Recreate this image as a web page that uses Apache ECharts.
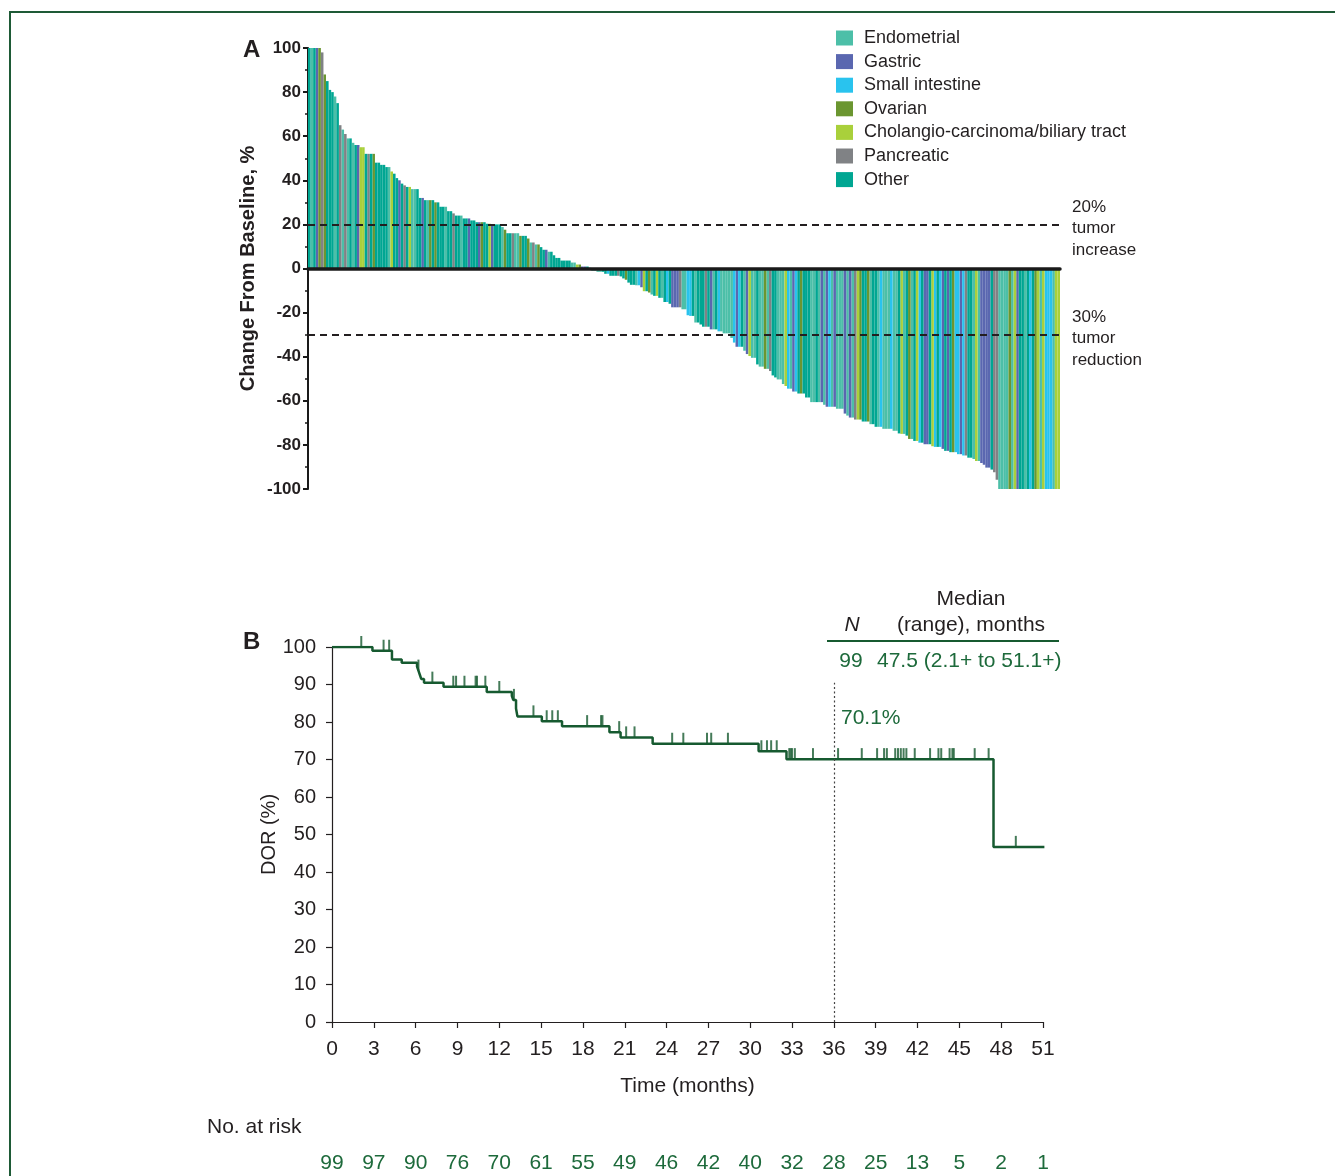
<!DOCTYPE html>
<html><head><meta charset="utf-8">
<script src="https://cdn.jsdelivr.net/npm/echarts@6/dist/echarts.min.js"></script>
<style>html,body{margin:0;padding:0;background:#fff}#c{width:1335px;height:1176px}</style>
</head><body><div id="c"></div>
<script>
// ---------- Panel A data ----------
const typeNames = ['Endometrial','Gastric','Small intestine','Ovarian','Cholangio-carcinoma/biliary tract','Pancreatic','Other'];
const typeCodes = ['E','G','S','V','C','P','O'];
const typeColors = ['#4cbfa8','#5a67b0','#29c3ee','#6b9630','#a9d03b','#808285','#00a692'];

const changeValues = [
  100,100,100,100,100,98,88,85,81,80,
  78,75,65,63,61,59,59,57,56,56,
  55,55,52,52,52,52,48,48,47,47,
  46,46,44,43,41,40,38.5,37.7,37,37,
  36,36,36,32,32,31,31,31,31,30,
  30,28,28,28,26,26,
  25,24,24,24,22.7,22.7,22.7,21.8,21.8,21,
  21,21,21,20.3,20.3,20,20,20,20,18.8,
  17.6,16,16,16,16,16,14.8,14.8,14.8,13.6,
  11.8,11.8,10.9,10.9,9.7,8.5,8.5,7.6,7.6,6,
  4.8,4.8,3.6,3.6,3.6,3.6,2.7,2.7,1.8,1.8,
  0.9,0.9,0.9,0.3,
  -1,-1,-1.5,-1.5,-1.5,-2.4,-2.4,-3.3,-3.3,-3.3,
  -3.3,-3.6,-4.5,-5.1,-6.4,-7.4,-7.4,-7.6,-7.6,-8.5,
  -10.3,-10.3,-10.9,-11.8,-12.4,-12.4,-13.3,-13.3,-15.2,-15.2,
  -16,-17.6,-17.6,-17.6,-17.6,-18.5,-18.5,-21.2,-21.5,-21.5,
  -24.5,-24.5,-25.4,-26.4,-26.4,-26.4,-27.6,-27.6,-27.6,-28.5,
  -28.5,-29.4,-29.4,-29.4,-31.5,-33.6,-35.5,-35.5,-35.5,-37.3,
  -38.8,
  -39.7,-40.5,-40.5,-43.5,-44.5,-44.5,-45.5,-45.5,-46.5,-48.5,
  -49.4,-50.3,-50.3,-52.4,-53.3,-54.5,-54.5,-55.8,-55.8,-56.7,
  -56.7,-56.7,-58.5,-58.5,-60.6,-60.6,-60.6,-60.6,-60.6,-61.8,
  -62.7,-62.7,-62.7,-62.7,-63.6,-63.6,-63.6,-65.8,-66.7,-67.6,
  -67.6,-68.5,-68.5,-68.5,-69.4,-69.4,-69.4,-70.6,-70.6,-71.8,
  -71.8,-71.8,-72.7,-72.7,-72.7,-72.7,-73.6,-73.6,-74.8,
  -75,-75,-75.8,-77.3,-77.3,-78.2,-78.2,-79,-79,-79.7,
  -79.7,-79.7,-80.6,-80.9,-80.9,-80.9,-81.8,-82.7,-82.7,-83.3,
  -83.3,-83.3,-84.2,-84.2,-84.8,-84.8,-85.8,-85.8,-86.4,-87.3,
  -87.3,-88.2,-89,-90.3,-90.3,-91.2,-92.4,-95.8,-100,-100,
  -100,-100,-100,-100,-100,-100,-100,-100,-100,-100,
  -100,-100,-100,-100,-100,-100,-100,-100,-100,-100,
  -100,-100
];
const tumorTypes = [
  'O','E','O','G','V','P','V','O','O','O',
  'E','O','P','E','P','E','O','E','O','G',
  'C','C','O','P','O','V','O','O','O','O',
  'O','E','C','O','O','G','O','P','O','C',
  'E','E','O','O','G','O','E','V','O','V',
  'O','O','O','E','O','O',
  'P','O','O','E','O','O','G','O','O','O',
  'G','V','O','O','C','G','O','O','O','E',
  'V','O','O','P','E','E','V','O','O','V',
  'E','P','E','V','O','O','G','E','O','O',
  'O','O','O','O','O','O','E','E','C','V',
  'G','G','O','O',
  'E','E','E','E','O','O','S','O','O','O',
  'P','O','O','V','O','O','O','E','S','G',
  'C','O','V','E','O','C','O','E','O','S',
  'O','G','G','G','P','E','E','S','S','O',
  'E','O','O','O','P','O','G','E','O','S',
  'E','E','E','E','E','S','G','S','O','E',
  'G',
  'C','E','E','O','E','E','V','E','P','O',
  'O','E','E','E','C','S','E','G','S','O',
  'V','O','O','O','E','E','O','E','G','E',
  'G','S','E','G','E','E','E','G','E','G',
  'E','P','C','V','O','O','V','E','O','O',
  'E','S','E','E','E','S','E','E','O',
  'C','E','O','V','E','O','C','S','O','G',
  'G','O','C','S','O','S','G','O','G','O',
  'V','S','S','G','S','P','O','O','E','C',
  'E','G','G','G','G','O','P','P','E','E',
  'E','E','V','E','C','G','O','O','E','O',
  'S','O','V','C','E','C','S','S','S','E',
  'C','C'
];
const thresholdA = [20, -30];
const thresholdLabels = ['20%\ntumor\nincrease', '30%\ntumor\nreduction'];

// ---------- Panel B data ----------
const kmTime = [0, 2.9, 4.3, 5.0, 6.1, 6.2, 6.3, 6.4, 6.6, 8.0, 11.1, 12.9, 13.0, 13.2, 13.3, 15.05, 16.5, 19.9, 20.7, 23.0, 30.6, 32.6, 47.45, 51.1];
const kmSurv = [100, 99.0, 96.7, 95.8, 94.8, 93.7, 92.6, 91.5, 90.5, 89.4, 88.0, 87.0, 85.9, 83.6, 81.5, 80.2, 78.9, 77.3, 75.9, 74.2, 72.2, 70.1, 46.7, 46.7];
const censorTimes = [2.1, 3.7, 4.1, 6.2, 7.2, 8.7, 8.9, 9.5, 10.3, 10.4, 11.0, 12.0, 13.05, 14.45, 15.4, 15.8, 16.2, 18.3, 19.3, 19.4, 20.6, 21.1, 21.7, 24.4, 25.2, 26.9, 27.2, 28.4, 30.8, 31.2, 31.5, 31.9, 32.8, 32.9, 33.0, 33.2, 34.5, 36.3, 38.0, 39.1, 39.6, 39.8, 40.4, 40.6, 40.8, 41.0, 41.2, 41.8, 42.9, 43.5, 43.7, 44.3, 44.5, 44.6, 46.1, 47.1, 49.05, 51.1];
const atRisk = [99, 97, 90, 76, 70, 61, 55, 49, 46, 42, 40, 32, 28, 25, 13, 5, 2, 1];
const landmarkTime = 36;
const landmarkLabel = '70.1%';

// ---------- build ----------
const TXT = '#231f20';
const GREEN = '#165a30';
const GREEN_T = '#1d6a3b';
const FONT = '"Liberation Sans", Arial, sans-serif';

function survAt(t) {
  let s = kmSurv[0];
  for (let i = 0; i < kmTime.length; i++) { if (kmTime[i] <= t) s = kmSurv[i]; }
  return s;
}

const cats = changeValues.map((v, i) => String(i + 1));
const wfSeries = typeCodes.map((code, k) => ({
  name: typeNames[k],
  type: 'bar',
  stack: 'wf',
  xAxisIndex: 0, yAxisIndex: 0,
  barCategoryGap: '0%',
  itemStyle: { color: typeColors[k] },
  data: changeValues.map((v, i) => tumorTypes[i] === code ? v : '-')
}));
wfSeries[wfSeries.length - 1].markLine = {
  silent: true, symbol: 'none',
  lineStyle: { type: [7, 5], width: 2, color: TXT },
  label: { position: 'end', distance: 12, color: TXT, fontSize: 17, lineHeight: 21.5, fontFamily: FONT, align: 'left', offset: [0, 4] },
  data: thresholdA.map((y, i) => ({ yAxis: y, label: { formatter: thresholdLabels[i] } }))
};

const option = {
  animation: false,
  textStyle: { fontFamily: FONT },
  legend: {
    data: typeNames, orient: 'vertical', left: 831, top: 24,
    itemWidth: 17, itemHeight: 15, itemGap: 5.6, icon: 'rect',
    textStyle: { fontSize: 18, color: TXT, fontFamily: FONT, padding: [0, 0, 0, 6] }
  },
  grid: [
    { left: 308, right: 275, top: 48, height: 441 },
    { left: 332, right: 292, top: 647, height: 375 },
    { left: 332, right: 292, top: 1150, height: 1 }
  ],
  xAxis: [
    { type: 'category', gridIndex: 0, data: cats, z: 5,
      axisLine: { onZero: true, lineStyle: { color: '#1a1a1a', width: 3.5 } },
      axisTick: { show: false }, axisLabel: { show: false }, splitLine: { show: false } },
    { type: 'value', gridIndex: 1, min: 0, max: 51, interval: 3,
      axisLine: { onZero: false, lineStyle: { color: TXT, width: 1.2 } },
      axisTick: { length: 6, lineStyle: { color: TXT, width: 1.2 } },
      axisLabel: { fontSize: 21, color: TXT, margin: 17, fontFamily: FONT },
      splitLine: { show: false },
      name: 'Time (months)', nameLocation: 'middle', nameGap: 54, nameMoveOverlap: false,
      nameTextStyle: { fontSize: 21, color: TXT, fontFamily: FONT } },
    { type: 'value', gridIndex: 2, min: 0, max: 51, interval: 3,
      axisLine: { show: false }, axisTick: { show: false }, splitLine: { show: false },
      axisLabel: { fontSize: 21, color: GREEN_T, margin: 2, fontFamily: FONT,
        formatter: v => { const k = Math.round(v / 3); return atRisk[k] !== undefined ? String(atRisk[k]) : ''; } } }
  ],
  yAxis: [
    { type: 'value', gridIndex: 0, min: -100, max: 100, interval: 20,
      axisLine: { show: true, lineStyle: { color: '#1a1a1a', width: 2 } },
      axisTick: { show: true, length: 5, lineStyle: { color: '#1a1a1a', width: 2 } },
      minorTick: { show: true, splitNumber: 2, length: 3, lineStyle: { color: '#1a1a1a', width: 1.5 } },
      splitLine: { show: false },
      axisLabel: { fontSize: 17, fontWeight: 'bold', color: TXT, margin: 7, fontFamily: FONT },
      name: 'Change From Baseline, %', nameLocation: 'middle', nameGap: 50, nameMoveOverlap: false,
      nameTextStyle: { fontSize: 20, fontWeight: 'bold', color: TXT, fontFamily: FONT } },
    { type: 'value', gridIndex: 1, min: 0, max: 100, interval: 10,
      axisLine: { show: true, lineStyle: { color: TXT, width: 1.2 } },
      axisTick: { show: true, length: 6, lineStyle: { color: TXT, width: 1.2 } },
      splitLine: { show: false },
      axisLabel: { fontSize: 20, color: TXT, margin: 16, fontFamily: FONT },
      name: 'DOR (%)', nameLocation: 'middle', nameGap: 53, nameMoveOverlap: false,
      nameTextStyle: { fontSize: 20, color: TXT, fontFamily: FONT } },
    { type: 'value', gridIndex: 2, show: false, min: 0, max: 1 }
  ],
  series: wfSeries.concat([
    { name: 'KM', type: 'line', xAxisIndex: 1, yAxisIndex: 1, step: 'end', symbol: 'none',
      lineStyle: { color: GREEN, width: 2.5 },
      data: kmTime.map((t, i) => [t, kmSurv[i]]),
      markLine: { silent: true, symbol: 'none',
        lineStyle: { type: [2, 2.5], width: 1.2, color: '#444' },
        label: { show: false },
        data: [[{ coord: [landmarkTime, 0] }, { coord: [landmarkTime, 90.5] }]] } },
    { name: 'Censored', type: 'scatter', xAxisIndex: 1, yAxisIndex: 1,
      symbol: 'rect', symbolSize: [2, 11], symbolOffset: [0, -5.5],
      itemStyle: { color: GREEN },
      data: censorTimes.map(t => [t, survAt(t)]) }
  ]),
  graphic: [
    { type: 'rect', silent: true, shape: { x: 10, y: 12, width: 1400, height: 1300 },
      style: { fill: 'none', stroke: '#1e5a36', lineWidth: 2 } },
    { type: 'text', left: 243, top: 38, style: { text: 'A', font: 'bold 24px ' + FONT, fill: TXT } },
    { type: 'text', left: 243, top: 630, style: { text: 'B', font: 'bold 24px ' + FONT, fill: TXT } },
    { type: 'text', x: 971, y: 599, style: { text: 'Median', font: '21px ' + FONT, fill: TXT, align: 'center', verticalAlign: 'middle' } },
    { type: 'text', x: 852, y: 625, style: { text: 'N', font: 'italic 21px ' + FONT, fill: TXT, align: 'center', verticalAlign: 'middle' } },
    { type: 'text', x: 971, y: 625, style: { text: '(range), months', font: '21px ' + FONT, fill: TXT, align: 'center', verticalAlign: 'middle' } },
    { type: 'line', shape: { x1: 827, y1: 641, x2: 1059, y2: 641 }, style: { stroke: GREEN, lineWidth: 2 } },
    { type: 'text', x: 851, y: 661, style: { text: '99', font: '21px ' + FONT, fill: GREEN_T, align: 'center', verticalAlign: 'middle' } },
    { type: 'text', x: 877, y: 661, style: { text: '47.5 (2.1+ to 51.1+)', font: '21px ' + FONT, fill: GREEN_T, align: 'left', verticalAlign: 'middle' } },
    { type: 'text', x: 841, y: 718, style: { text: landmarkLabel, font: '21px ' + FONT, fill: GREEN_T, align: 'left', verticalAlign: 'middle' } },
    { type: 'text', x: 207, y: 1127, style: { text: 'No. at risk', font: '21px ' + FONT, fill: TXT, align: 'left', verticalAlign: 'middle' } }
  ]
};

const chart = echarts.init(document.getElementById('c'), null, { renderer: 'canvas' });
chart.setOption(option);
</script>
</body></html>
